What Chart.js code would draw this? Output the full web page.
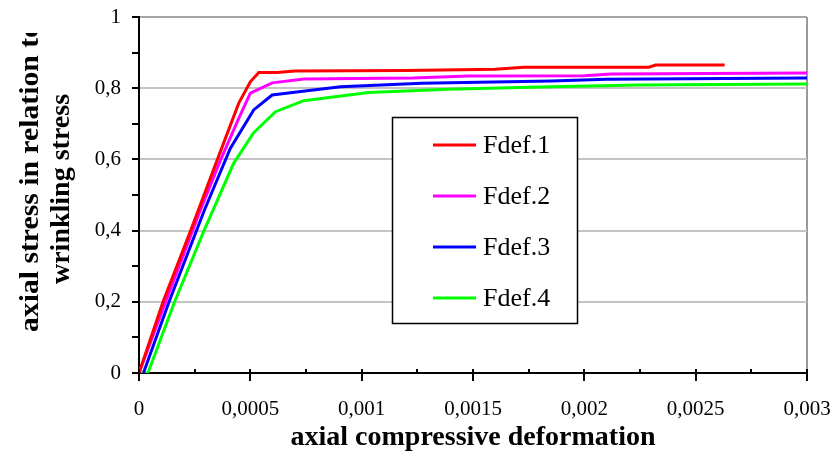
<!DOCTYPE html>
<html>
<head>
<meta charset="utf-8">
<script src="https://cdn.jsdelivr.net/npm/chart.js@4/dist/chart.umd.min.js"></script>
<style>
  html, body { margin: 0; padding: 0; background: #fff; }
  #wrap { width: 833px; height: 457px; }
</style>
</head>
<body>
<div id="wrap"><canvas id="chart" width="833" height="457"></canvas></div>
<script>
const seriesNames = ['Fdef.1', 'Fdef.2', 'Fdef.3', 'Fdef.4'];

const fdef1X = [0, 0.000108, 0.000232, 0.000351, 0.000448, 0.0005, 0.000538, 0.00062, 0.0007, 0.0012, 0.0016, 0.00173, 0.00229, 0.00232, 0.00263];
const fdef1Y = [0, 0.2, 0.4, 0.598, 0.758, 0.818, 0.844, 0.844, 0.848, 0.85, 0.853, 0.859, 0.859, 0.865, 0.865];

const fdef2X = [0, 0.00012, 0.000276, 0.000366, 0.000448, 0.0005, 0.000598, 0.00074, 0.00123, 0.00148, 0.002, 0.00212, 0.003];
const fdef2Y = [0, 0.2, 0.458, 0.598, 0.715, 0.786, 0.815, 0.826, 0.829, 0.834, 0.835, 0.84, 0.843];

const fdef3X = [0.00002, 0.000135, 0.000294, 0.00041, 0.000515, 0.000598, 0.00068, 0.000905, 0.00127, 0.00185, 0.0021, 0.003];
const fdef3Y = [0, 0.2, 0.458, 0.631, 0.739, 0.781, 0.787, 0.804, 0.814, 0.82, 0.825, 0.829];

const fdef4X = [0, 0.00004, 0.00016, 0.000292, 0.000425, 0.000515, 0.000613, 0.00074, 0.00103, 0.00139, 0.00185, 0.00225, 0.003];
const fdef4Y = [0, 0, 0.2, 0.4, 0.589, 0.675, 0.734, 0.765, 0.788, 0.797, 0.804, 0.809, 0.812];

const xTitle = 'axial compressive deformation';
const yTitle = ['axial stress in relation to', 'wrinkling stress'];

const serif = '"Liberation Serif", "Times New Roman", serif';

function toPoints(xs, ys) {
    return xs.map((x, i) => ({ x: x, y: ys[i] }));
}

function commaLabel(v) {
    return String(Number(v.toPrecision(6))).replace('.', ',');
}

function isMajorX(v) {
    return Math.round(v / 0.00025) % 2 === 0;
}

function isMajorY(v) {
    return Math.round(v * 10) % 2 === 0;
}

// rotated y title, clipped at the top like the original text box
const yTitlePlugin = {
    id: 'yTitle',
    afterDraw(chart) {
        const ctx = chart.ctx;
        ctx.save();
        ctx.beginPath();
        ctx.rect(0, 33, 120, 457);
        ctx.clip();
        ctx.font = 'bold 28px ' + serif;
        ctx.fillStyle = '#000';
        ctx.textBaseline = 'middle';

        ctx.save();
        ctx.translate(31, 332);
        ctx.rotate(-Math.PI / 2);
        ctx.scale(1.06, 1);
        ctx.textAlign = 'left';
        ctx.fillText(yTitle[0], 0, 0);
        ctx.restore();

        ctx.save();
        ctx.translate(62, 189);
        ctx.rotate(-Math.PI / 2);
        ctx.textAlign = 'center';
        ctx.fillText(yTitle[1], 0, 0);
        ctx.restore();

        ctx.restore();
    }
};

// x ticks poke a little into the plot area
const innerTicksPlugin = {
    id: 'innerTicks',
    afterDatasetsDraw(chart) {
        const xs = chart.scales.x;
        const ctx = chart.ctx;
        ctx.save();
        ctx.strokeStyle = '#000';
        ctx.lineWidth = 2;
        xs.ticks.forEach(t => {
            const px = Math.round(xs.getPixelForValue(t.value));
            ctx.beginPath();
            ctx.moveTo(px, xs.top);
            ctx.lineTo(px, xs.top - 4);
            ctx.stroke();
        });
        ctx.restore();
    }
};

const boxLegendPlugin = {
    id: 'boxLegend',
    afterDraw(chart) {
        const ctx = chart.ctx;
        ctx.save();
        ctx.fillStyle = '#fff';
        ctx.fillRect(392.5, 117.5, 185, 206);
        ctx.strokeStyle = '#000';
        ctx.lineWidth = 1.5;
        ctx.strokeRect(392.5, 117.5, 185, 206);
        ctx.font = '26px ' + serif;
        ctx.textBaseline = 'middle';
        ctx.textAlign = 'left';
        chart.data.datasets.forEach((ds, i) => {
            const y = 145 + i * 51;
            ctx.strokeStyle = ds.borderColor;
            ctx.lineWidth = 3;
            ctx.beginPath();
            ctx.moveTo(433, y);
            ctx.lineTo(476, y);
            ctx.stroke();
            ctx.fillStyle = '#000';
            ctx.fillText(ds.label, 483, y + 1);
        });
        ctx.restore();
    }
};

Chart.defaults.font.family = serif;
Chart.defaults.color = '#000';

const colors = ['#ff0000', '#ff00ff', '#0000ff', '#00ff00'];
const seriesX = [fdef1X, fdef2X, fdef3X, fdef4X];
const seriesY = [fdef1Y, fdef2Y, fdef3Y, fdef4Y];

const datasets = seriesNames.map((name, i) => ({
    label: name,
    data: toPoints(seriesX[i], seriesY[i]),
    borderColor: colors[i],
    backgroundColor: colors[i],
    borderWidth: 3,
    pointRadius: 0,
    tension: 0,
    fill: false
}));

new Chart(document.getElementById('chart'), {
    type: 'line',
    data: { datasets: datasets },
    options: {
        responsive: false,
        animation: false,
        devicePixelRatio: 1,
        layout: { padding: { left: 0, right: 26, top: 17, bottom: 0 } },
        plugins: {
            legend: { display: false },
            tooltip: { enabled: false }
        },
        scales: {
            x: {
                type: 'linear',
                min: 0,
                max: 0.003,
                border: { display: true, color: '#000', width: 2 },
                grid: {
                    color: c => (c.tick && c.tick.value >= 0.003 - 1e-9) ? '#9a9a9a' : 'rgba(0,0,0,0)',
                    lineWidth: 2,
                    drawTicks: true,
                    tickLength: 8,
                    tickWidth: 2,
                    tickColor: c => (c.tick && isMajorX(c.tick.value)) ? '#000' : 'rgba(0,0,0,0)'
                },
                ticks: {
                    stepSize: 0.00025,
                    autoSkip: false,
                    maxRotation: 0,
                    padding: 16,
                    font: { size: 21 },
                    callback: v => isMajorX(v) ? commaLabel(v) : ''
                },
                title: {
                    display: true,
                    text: xTitle,
                    font: { size: 28, weight: 'bold' },
                    padding: { top: 0, bottom: 2 }
                },
                afterFit: scale => {
                    scale.height = 84;
                    scale.paddingLeft = 0;
                    scale.paddingRight = 0;
                }
            },
            y: {
                min: 0,
                max: 1,
                border: { display: true, color: '#000', width: 2 },
                grid: {
                    color: c => {
                        if (!c.tick || c.tick.value <= 0) return 'rgba(0,0,0,0)';
                        if (c.tick.value >= 1 - 1e-9) return '#a6a6a6';
                        return isMajorY(c.tick.value) ? '#c4c4c4' : 'rgba(0,0,0,0)';
                    },
                    lineWidth: 2,
                    drawTicks: true,
                    tickLength: 7,
                    tickWidth: 2,
                    tickColor: '#000'
                },
                ticks: {
                    stepSize: 0.1,
                    autoSkip: false,
                    padding: 11,
                    font: { size: 21 },
                    callback: v => isMajorY(v) ? commaLabel(v) : ''
                },
                afterFit: scale => {
                    scale.width = 139;
                    scale.paddingTop = 0;
                    scale.paddingBottom = 0;
                }
            }
        }
    },
    plugins: [yTitlePlugin, innerTicksPlugin, boxLegendPlugin]
});
</script>
</body>
</html>
